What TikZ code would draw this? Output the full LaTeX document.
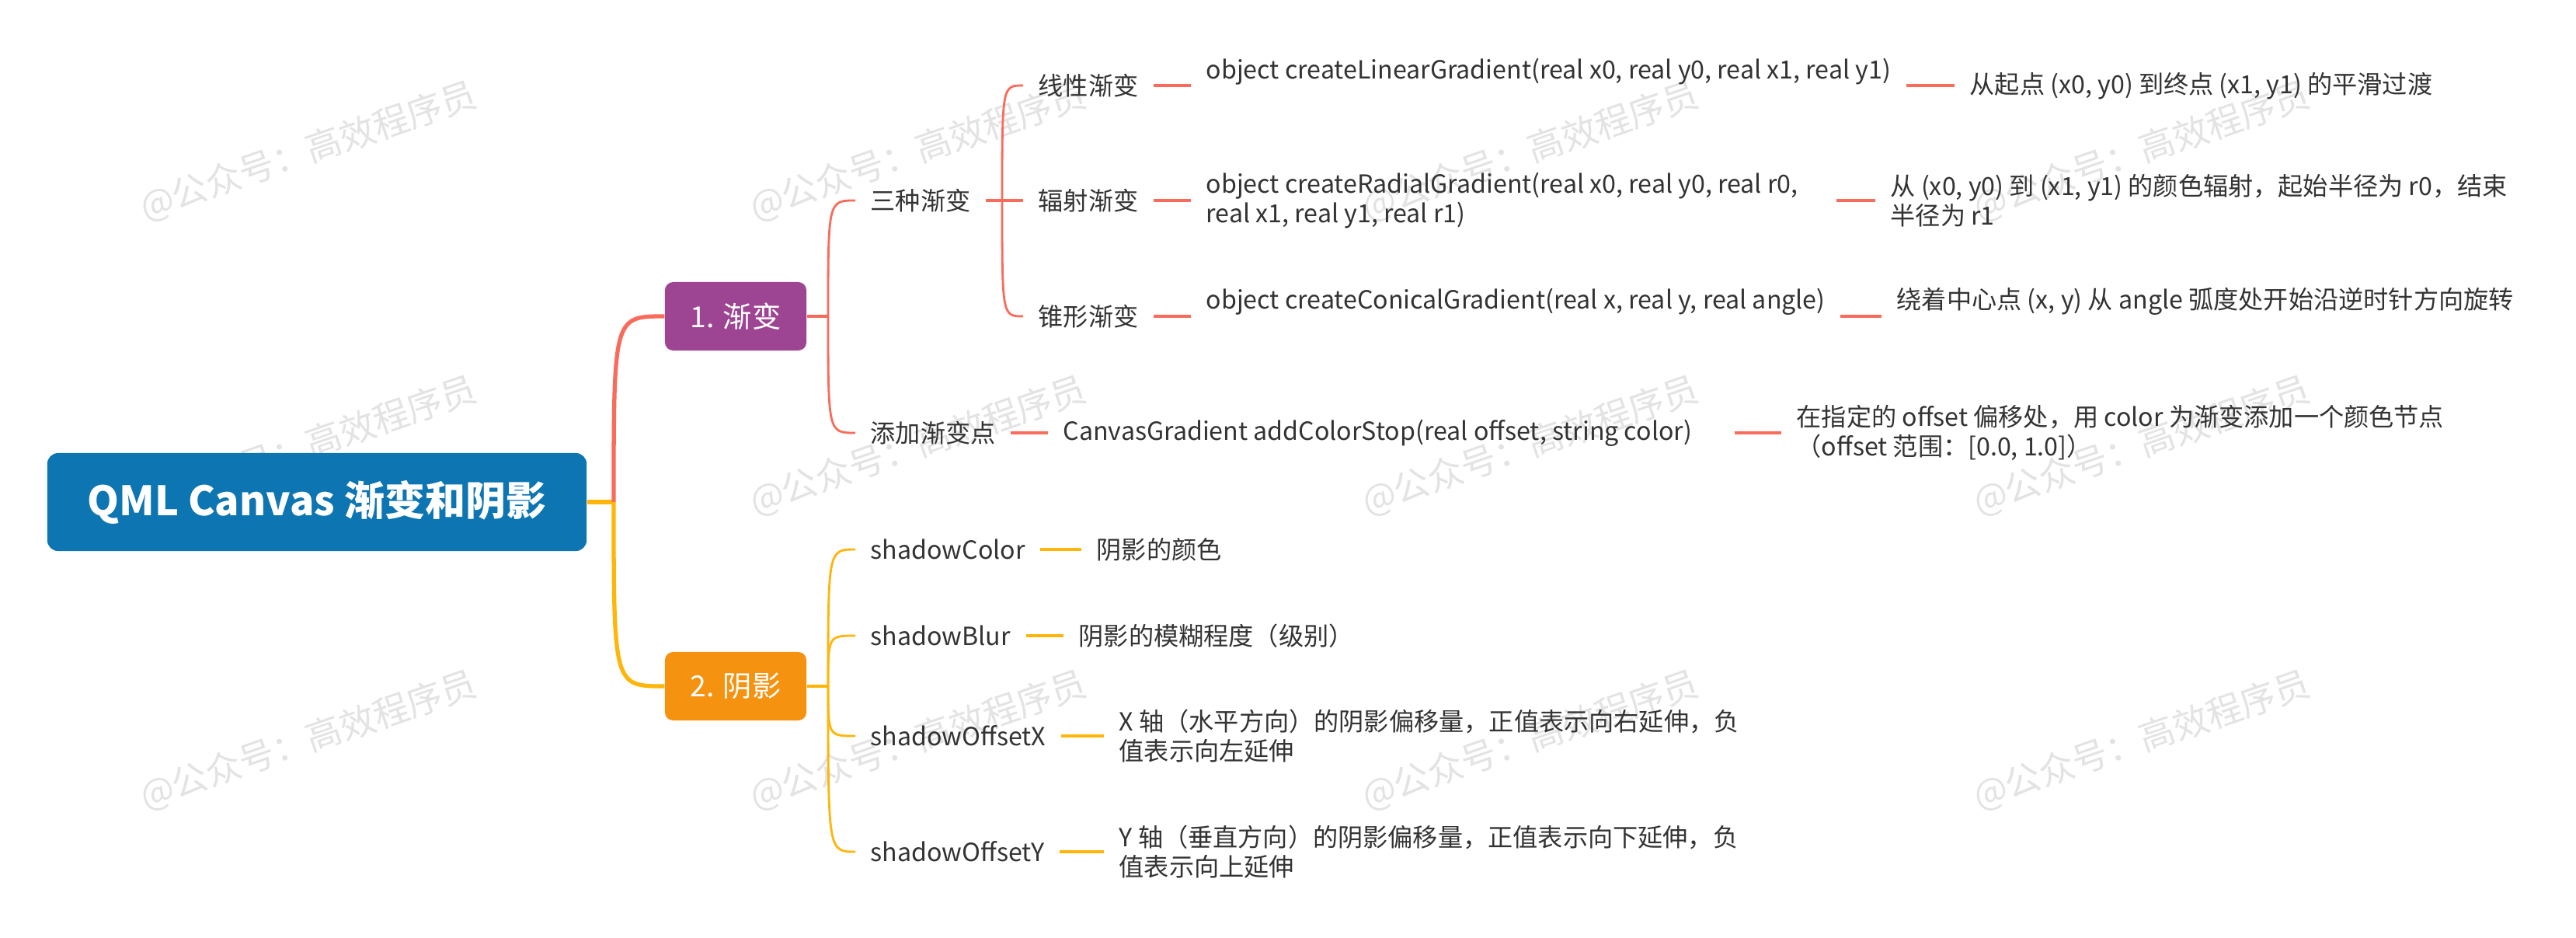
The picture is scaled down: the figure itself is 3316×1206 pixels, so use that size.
\documentclass[tikz,border=0pt]{standalone}
\usepackage{fontspec}
\newfontfamily\cjk{Noto Sans CJK SC}
\definecolor{rootblue}{HTML}{0C75B2}
\definecolor{gradpurple}{HTML}{9D4493}
\definecolor{shadorange}{HTML}{F5920F}
\definecolor{redline}{HTML}{F96B5B}
\definecolor{yelline}{HTML}{FFB50A}
\definecolor{txt}{HTML}{333333}
\tikzset{
  topic/.style={fill=rootblue, rounded corners=4pt, minimum width=6.94cm, minimum height=1.26cm,
    font=\cjk\bfseries\fontsize{14.8}{17}\selectfont, text=white},
  sub/.style={rounded corners=3pt, minimum width=1.82cm, minimum height=0.88cm,
    font=\cjk\fontsize{10.6}{12}\selectfont, text=white},
  item/.style={anchor=west, inner xsep=5.4pt, inner ysep=0pt, align=left,
    font=\cjk\fontsize{9.15}{10.75}\selectfont, text=txt},
  wmtext/.style={rotate=19, font=\cjk\fontsize{13}{14}\selectfont, text=black!11},
  rootline/.style={line width=1.5pt},
  midline/.style={line width=1.1pt},
  branch/.style={line width=0.8pt},
  leaf/.style={line width=1pt}
}
\begin{document}
\begin{tikzpicture}[x=0.01cm,y=-0.01cm]
        \fill[white] (0,0) rectangle (3316,1206);
        \useasboundingbox (0,0) rectangle (3316,1206);

        % watermark
        \foreach \wx/\wi in {397/a,1182/b,1970/c,2757/d}
          \foreach \wy/\wj in {195/1,574/2,953/3}
            \node[wmtext] (wm-\wi\wj) at (\wx,\wy) {@公众号：高效程序员};

        \node[topic] (root) at (408,646) {QML Canvas 渐变和阴影};
        \node[sub, fill=gradpurple] (grad) at (947,407) {1. 渐变};
        \node[sub, fill=shadorange] (shad) at (947,883) {2. 阴影};

        \coordinate (j0) at (790,646);
        \coordinate (j1) at (1066,407);
        \coordinate (j2) at (1066,883);
        \coordinate (j3) at (1290,258);

        \draw[rootline, yelline] (root.east) -- (j0);
        \draw[rootline, redline] (j0) .. controls (j0 |- grad.west) .. (grad.west);
        \draw[rootline, yelline] (j0) .. controls (j0 |- shad.west) .. (shad.west);

        % 1. gradients
        \node[item] (three) at (1101,258) {三种渐变};
        \node[item] (stop) at (1101,557) {添加渐变点};
        \draw[midline, redline] (grad.east) -- (j1);
        \draw[branch, redline] (j1) .. controls (j1 |- three.west) .. (three.west);
        \draw[branch, redline] (j1) .. controls (j1 |- stop.west) .. (stop.west);

        \node[item] (lin) at (1317,110) {线性渐变};
        \node[item] (rad) at (1317,258) {辐射渐变};
        \node[item] (con) at (1317,407) {锥形渐变};
        \draw[midline, redline] (three.east) -- (j3) -- (rad.west);
        \draw[branch, redline] (j3) .. controls (j3 |- lin.west) .. (lin.west);
        \draw[branch, redline] (j3) .. controls (j3 |- con.west) .. (con.west);

        \node[item] (linc) at (1533,92) {object createLinearGradient(real x0, real y0, real x1, real y1)};
        \node[item] (radc) at (1533,258) {object createRadialGradient(real x0, real y0, real r0,\\real x1, real y1, real r1)};
        \node[item] (conc) at (1533,388) {object createConicalGradient(real x, real y, real angle)};
        \draw[leaf, redline] (lin.east) -- (lin.east -| linc.west);
        \draw[leaf, redline] (rad.east) -- (radc.west);
        \draw[leaf, redline] (con.east) -- (con.east -| conc.west);

        \node[item] (lind) at (2516,111) {从起点 (x0, y0) 到终点 (x1, y1) 的平滑过渡};
        \node[item] (radd) at (2414,258) {从 (x0, y0) 到 (x1, y1) 的颜色辐射，起始半径为 r0，结束\\半径为 r1};
        \node[item] (cond) at (2422,388) {绕着中心点 (x, y) 从 angle 弧度处开始沿逆时针方向旋转};
        \draw[leaf, redline] (linc.east |- lin.east) -- (lind.west |- lin.east);
        \draw[leaf, redline, shorten <=8.5pt] (radc.east) -- (radd.west);
        \draw[leaf, redline] (conc.east |- con.east) -- (cond.west |- con.east);

        \node[item] (stopc) at (1349,557) {CanvasGradient addColorStop(real offset, string color)};
        \node[item] (stopd) at (2293,557) {在指定的 offset 偏移处，用 color 为渐变添加一个颜色节点\\（offset 范围：[0.0, 1.0]）};
        \draw[leaf, redline] (stop.east) -- (stopc.west);
        \draw[leaf, redline, shorten <=10pt] (stopc.east) -- (stopd.west);

        % 2. shadows
        \node[item] (scol) at (1101,707) {shadowColor};
        \node[item] (sblur) at (1101,818) {shadowBlur};
        \node[item] (sx) at (1101,947) {shadowOffsetX};
        \node[item] (sy) at (1101,1096) {shadowOffsetY};
        \draw[midline, yelline] (shad.east) -- (j2);
        \foreach \s in {scol,sblur,sx,sy}
          \draw[branch, yelline] (j2) .. controls (j2 |- \s.west) .. (\s.west);

        \node[item] (scold) at (1392,707) {阴影的颜色};
        \node[item] (sblurd) at (1369,818) {阴影的模糊程度（级别）};
        \node[item] (sxd) at (1421,947) {X 轴（水平方向）的阴影偏移量，正值表示向右延伸，负\\值表示向左延伸};
        \node[item] (syd) at (1421,1096) {Y 轴（垂直方向）的阴影偏移量，正值表示向下延伸，负\\值表示向上延伸};
        \draw[leaf, yelline] (scol.east) -- (scold.west);
        \draw[leaf, yelline] (sblur.east) -- (sblurd.west);
        \draw[leaf, yelline] (sx.east) -- (sxd.west);
        \draw[leaf, yelline] (sy.east) -- (syd.west);
\end{tikzpicture}
\end{document}
